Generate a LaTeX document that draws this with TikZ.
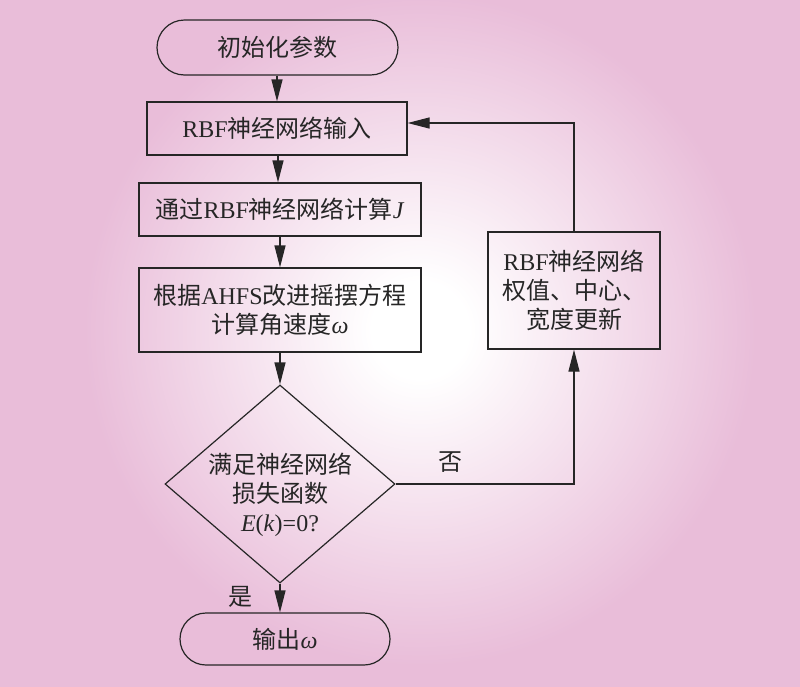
\documentclass[tikz,border=0pt]{standalone}
\usepackage{fontspec}
\setmainfont{Liberation Serif}
\newfontfamily\cjk{Noto Sans CJK SC}
\usetikzlibrary{shapes.geometric,shapes.misc,arrows.meta}
\definecolor{pinkbg}{HTML}{E9BDD9}
\definecolor{ink}{HTML}{262626}
\newcommand{\zh}[1]{{\cjk #1}}
\newcommand{\omg}{\textit{ω}}
\pgfdeclareradialshading{bgshade}{\pgfpoint{0bp}{0bp}}{color(0bp)=(white); color(2bp)=(white); color(14bp)=(pinkbg); color(25bp)=(pinkbg); color(50bp)=(pinkbg)}
\tikzset{
  every node/.style={text=ink, font=\fontsize{24}{29}\selectfont},
  boxstyle/.style={draw=ink, line width=1.2pt, rectangle, inner sep=0pt, align=center},
  termstyle/.style={draw=ink, line width=1.2pt, rounded rectangle, inner sep=0pt, align=center},
  arr/.style={draw=ink, line width=1.2pt, -{Triangle[length=22pt,width=11pt]}},
  lbl/.style={inner sep=0pt}
}
\begin{document}
\begin{tikzpicture}[x=1pt,y=-1pt]
\useasboundingbox (0,0) rectangle (800,686);
\fill[pinkbg] (0,0) rectangle (800,686);
\begin{scope}
\clip (0,0) rectangle (800,686);
\shade[shading=bgshade] (420,330) circle (600);
\end{scope}

\node[termstyle, minimum width=241pt, minimum height=55pt] (start) at (277.5,47.5) {\zh{初始化参数}};
\node[boxstyle, minimum width=260pt, minimum height=53pt] (b1) at (277,128.5) {RBF\zh{神经网络输入}};
\node[boxstyle, minimum width=282pt, minimum height=53pt] (b2) at (280,209.5) {\zh{通过}RBF\zh{神经网络计算}\textit{J}};
\node[boxstyle, minimum width=282pt, minimum height=84pt] (b3) at (280,310) {\zh{根据}AHFS\zh{改进摇摆方程}\\\zh{计算角速度}\omg};
\node[diamond, draw=ink, line width=1.2pt, inner sep=0pt, minimum width=230pt, minimum height=198pt] (dia) at (280,484) {};
\node[lbl, align=center] (diatext) at (280,495) {\zh{满足神经网络}\\\zh{损失函数}\\\textit{E}(\textit{k})=0?};
\node[termstyle, minimum width=210pt, minimum height=52pt] (end) at (285,639) {\zh{输出}\omg};
\node[boxstyle, minimum width=172pt, minimum height=117pt] (upd) at (574,290.5) {RBF\zh{神经网络}\\\zh{权值、中心、}\\\zh{宽度更新}};

\node[lbl] (no) at (450,462) {\zh{否}};
\node[lbl] (yes) at (240,597) {\zh{是}};

\draw[arr] (start.south -| b1.north) -- (b1.north);
\draw[arr] (b1.south -| 278,0) -- (b2.north -| 278,0);
\draw[arr] (b2) -- (b3);
\draw[arr] (b3) -- (dia);
\draw[arr] (dia.south) -- (dia.south |- end.north);
\draw[arr] (dia.east) -| (upd.south);
\draw[arr] (upd.north) |- ([yshift=5.5pt]b1.east);
\end{tikzpicture}
\end{document}
